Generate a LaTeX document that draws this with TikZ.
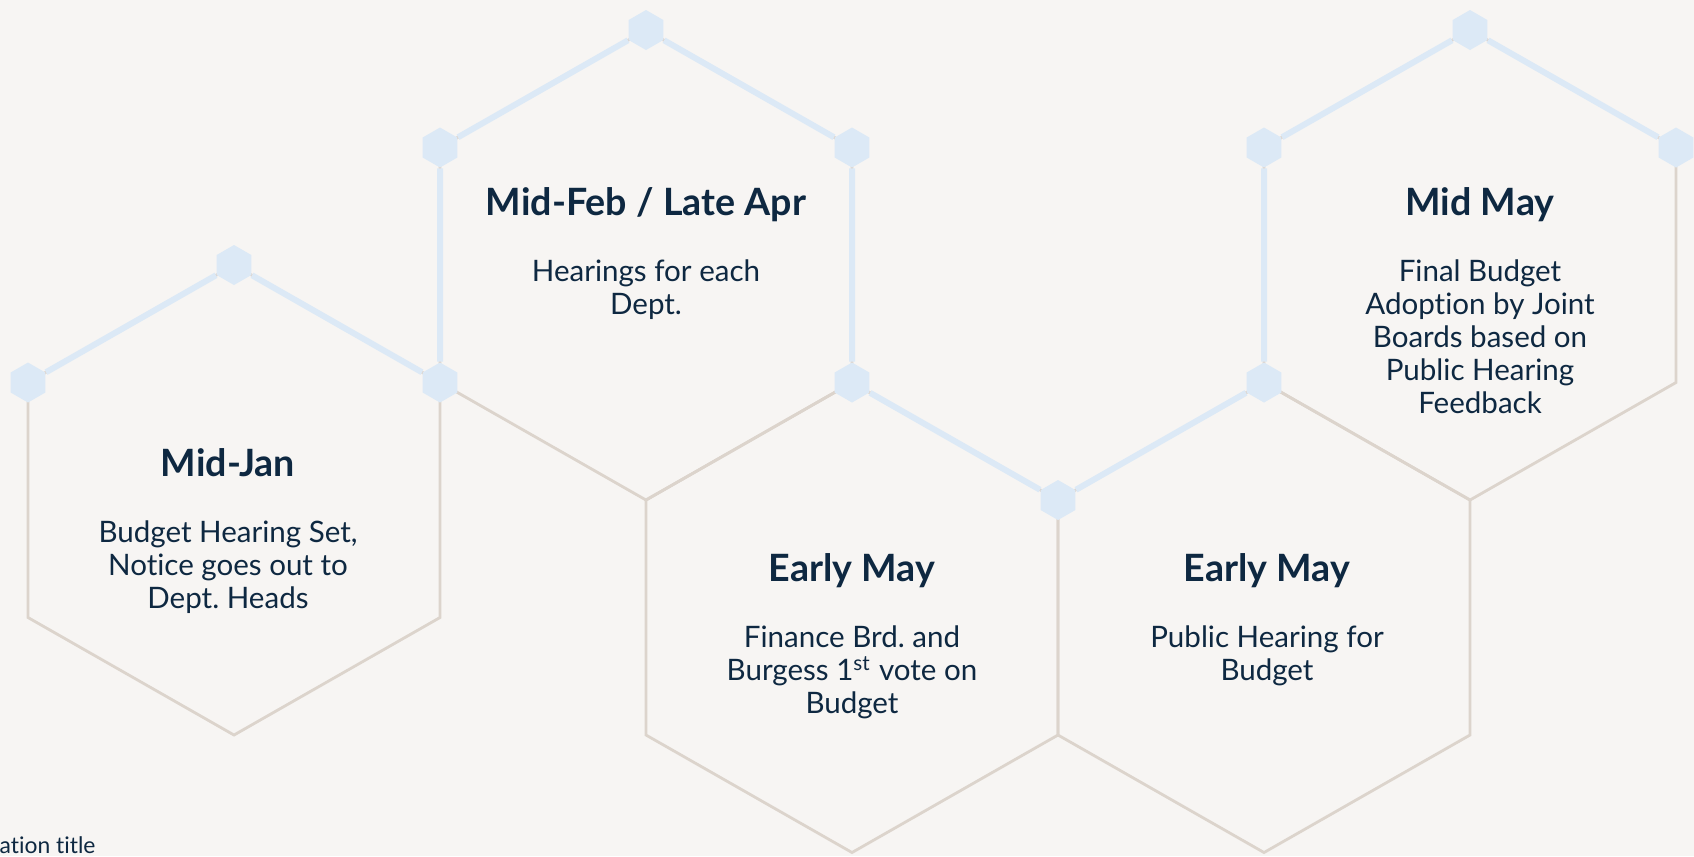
\documentclass[tikz,border=0pt]{standalone}
\usepackage{fontspec}
\setmainfont{Lato}[Ligatures=CommonOff]
\usetikzlibrary{positioning,shapes.geometric}
\frenchspacing

\definecolor{paper}{HTML}{F7F5F3}
\definecolor{rimcol}{HTML}{DCD4CC}
\definecolor{linkcol}{HTML}{DCE9F6}
\definecolor{ink}{HTML}{0E2841}

\begin{document}
\begin{tikzpicture} [x=0.01cm,y=-0.01cm,
  rimline/.style={draw=rimcol,line width=0.028cm,line join=miter},
  linkline/.style={draw=linkcol,line width=0.06cm},
  knot/.style={regular polygon,regular polygon sides=6,rotate=30,fill=linkcol,minimum size=0.4cm,inner sep=0pt},
  head/.style={font=\bfseries\fontsize{10.7}{13}\selectfont,text=ink,inner sep=0pt,anchor=base},
  body/.style={font=\fontsize{8.4}{9.4}\selectfont,text=ink,inner sep=0pt,align=center}]

  \fill[paper] (0,0) rectangle (1694,856);
  \useasboundingbox (0,0) rectangle (1694,856);

  % hexagon corners and outlines
  \foreach \n/\cx/\cy in {h1/234/500, h2/646/265, h3/852/617.5, h4/1264/617.5, h5/1470/265}{
    \coordinate (\n-t)  at (\cx,\cy-235);
    \coordinate (\n-ur) at (\cx+206,\cy-117.5);
    \coordinate (\n-lr) at (\cx+206,\cy+117.5);
    \coordinate (\n-b)  at (\cx,\cy+235);
    \coordinate (\n-ll) at (\cx-206,\cy+117.5);
    \coordinate (\n-ul) at (\cx-206,\cy-117.5);
    \draw[rimline] (\n-t) -- (\n-ur) -- (\n-lr) -- (\n-b) -- (\n-ll) -- (\n-ul) -- cycle;
  }

  \node[knot] (1) at (h1-ul) {};
  \node[knot] (2) at (h1-t) {};
  \node[knot] (3) at (h1-ur) {};
  \node[knot] (4) at (h2-ul) {};
  \node[knot] (5) at (h2-t) {};
  \node[knot] (6) at (h2-ur) {};
  \node[knot] (7) at (h2-lr) {};
  \node[knot] (8) at (h3-ur) {};
  \node[knot] (9) at (h4-t) {};
  \node[knot] (10) at (h5-ul) {};
  \node[knot] (11) at (h5-t) {};
  \node[knot] (12) at (h5-ur) {};

  \draw[linkline] (1) -- (2) -- (3) -- (4) -- (5) -- (6) -- (7) -- (8) -- (9) -- (10) -- (11) -- (12);

  \node[head] (t1) at (228,476.5) {Mid-Jan};
  \node[body] (b1) [below=0.43cm of t1.base] {Budget Hearing Set,\\Notice goes out to\\Dept. Heads};
  \node[head] (t2) at (646,215.5) {Mid-Feb / Late Apr};
  \node[body] (b2) [below=0.43cm of t2.base] {Hearings for each\\Dept.};
  \node[head] (t3) at (852,581.5) {Early May};
  \node[body] (b3) [below=0.43cm of t3.base] {Finance Brd. and\\Burgess 1\textsuperscript{st} vote on\\Budget};
  \node[head] (t4) at (1267,581.5) {Early May};
  \node[body] (b4) [below=0.43cm of t4.base] {Public Hearing for\\Budget};
  \node[head] (t5) at (1480,215.5) {Mid May};
  \node[body] (b5) [below=0.43cm of t5.base] {Final Budget\\Adoption by Joint\\Boards based on\\Public Hearing\\Feedback};

  \node[font=\fontsize{6.5}{8}\selectfont,text=ink,inner sep=0pt,anchor=base west] (ft) at (-1,853) {ation title};

\end{tikzpicture}
\end{document}
